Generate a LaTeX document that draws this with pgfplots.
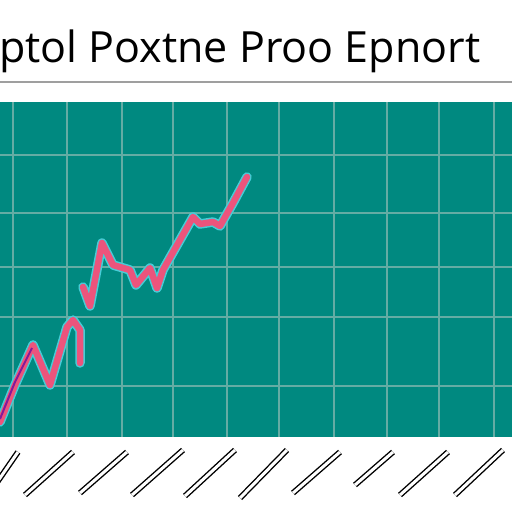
\documentclass[border=0pt]{standalone}
\usepackage{pgfplots}
\pgfplotsset{compat=1.18}
\usepackage{fontspec}
\setmainfont{Open Sans}
\definecolor{tealbg}{RGB}{0,137,128}
\definecolor{gridc}{RGB}{100,172,164}
\definecolor{pinkline}{RGB}{236,84,124}
\definecolor{halo}{RGB}{70,205,215}
\begin{document}
\begin{tikzpicture}
\useasboundingbox (0pt,-75pt) rectangle (512pt,437pt);
\begin{axis}[
  at={(0pt,0pt)}, anchor=south west,
  width=512pt, height=335pt, scale only axis,
  xmin=0, xmax=512, ymin=0, ymax=335,
  axis background/.style={fill=tealbg},
  axis line style={draw=none},
  major tick length=0pt,
  xtick={13,67,122,173,227,279,334,387,439,494},
  ytick={51,120,170,224,282},
  xticklabels={}, yticklabels={},
  grid=major,
  major grid style={gridc, line width=1.2pt},
  clip=true,
]
% segment 1
\addplot[halo, line width=9.5pt, line join=round, line cap=round] coordinates {
(0,15) (15,52) (33,92) (50,52) (67,110) (73,117) (80,107) (80,74)};
\addplot[pinkline, line width=6.5pt, line join=round, line cap=round] coordinates {
(0,15) (15,52) (33,92) (50,52) (67,110) (73,117) (80,107) (80,74)};
\addplot[violet!70!blue, line width=2pt, opacity=0.7] coordinates {
(0,18) (15,55) (32,89)};
% segment 2
\addplot[halo, line width=9.5pt, line join=round, line cap=round] coordinates {
(83,150) (90,131) (102,194) (108,182) (113,172) (130,167) (136,152) (150,169) (157,149) (163,167) (193,220) (200,213) (213,215) (220,211) (233,234) (247,260)};
\addplot[pinkline, line width=6.5pt, line join=round, line cap=round] coordinates {
(83,150) (90,131) (102,194) (108,182) (113,172) (130,167) (136,152) (150,169) (157,149) (163,167) (193,220) (200,213) (213,215) (220,211) (233,234) (247,260)};
\end{axis}
% title and rule
\node[anchor=base west, inner sep=0pt, font=\fontsize{43}{45}\selectfont] at (-1pt,374pt) {ptol Poxtne Proo Epnort};
\draw[gray!75, line width=1.3pt] (0pt,355pt) -- (512pt,355pt);
% decorative slanted double strokes below the plot
\foreach \xa/\xb/\ya/\yb in {-20/18/-70/-15, 25/73/-58/-15, 80/127/-56/-15, 132/183/-58/-13, 185/235/-59/-13, 240/287/-61/-13, 293/340/-56/-15, 355/393/-48/-15, 400/448/-58/-15, 455/503/-58/-13}{
  \draw[double=white, double distance=3pt, line width=1.4pt, black] (\xa pt,\ya pt) -- (\xb pt,\yb pt);
}
\end{tikzpicture}
\end{document}
